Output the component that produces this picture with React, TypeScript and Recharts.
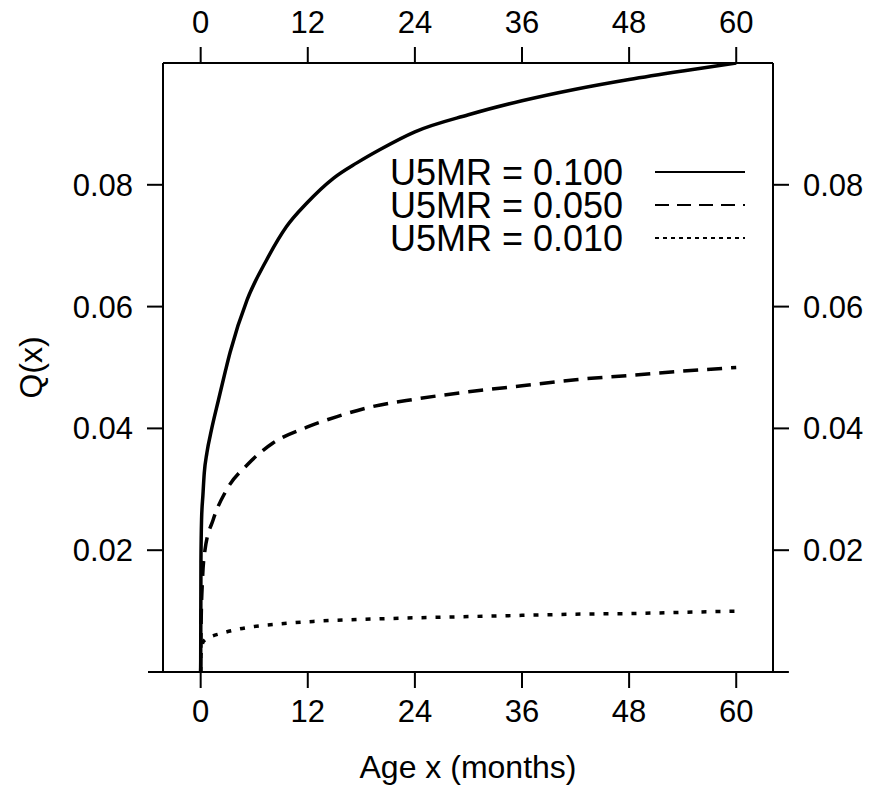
import React from 'react';
import { LineChart, Line, XAxis, YAxis, Legend, ReferenceLine } from 'recharts';

const FONT = '"Liberation Sans", Arial, Helvetica, sans-serif';

const monthTicks = [0, 12, 24, 36, 48, 60];
const qTicks = [0.02, 0.04, 0.06, 0.08];

const seriesLabels = ['U5MR = 0.100', 'U5MR = 0.050', 'U5MR = 0.010'];

const ageHigh = [0, 0.03, 0.1, 0.25, 0.4, 0.7, 1.2, 2, 2.8, 3.3, 5.2, 7.4, 9.6, 11.9, 14.9, 17.5, 20.1, 24, 30, 36, 42, 48, 54, 60];
const qHigh = [0, 0.018, 0.025, 0.029, 0.0326, 0.036, 0.0397, 0.0447, 0.0496, 0.0525, 0.0611, 0.0677, 0.0731, 0.077, 0.0811, 0.0836, 0.0858, 0.0887, 0.0915, 0.0938, 0.0957, 0.0973, 0.0987, 0.1];

const ageMid = [0, 0.05, 0.2, 0.48, 1.4, 2.9, 5.2, 8.1, 11.9, 15.2, 19, 24, 30, 36, 42, 48, 54, 60];
const qMid = [0, 0.008, 0.015, 0.02, 0.025, 0.0299, 0.034, 0.0376, 0.0402, 0.0419, 0.0435, 0.0448, 0.046, 0.047, 0.048, 0.0487, 0.0494, 0.05];

const ageLow = [0, 0.05, 0.3, 1, 2.2, 3.8, 5.2, 8.9, 12.6, 19.3, 24, 30, 36, 42, 48, 54, 60];
const qLow = [0, 0.003, 0.005, 0.0057, 0.0063, 0.0069, 0.0073, 0.0079, 0.0083, 0.0087, 0.0089, 0.0091, 0.0093, 0.0095, 0.0096, 0.0098, 0.01];

const toRows = (xs: number[], ys: number[]) => xs.map((x, i) => ({ x, q: ys[i] }));
const highData = toRows(ageHigh, qHigh);
const midData = toRows(ageMid, qMid);
const lowData = toRows(ageLow, qLow);

const lineDash = ['', '15 9', '5 9'];
const legendDash = ['', '14 8', '4 4'];

const tickStyle = { fill: '#000', fontSize: 31, fontFamily: FONT };
const lineStyle = { stroke: '#000', strokeWidth: 2 };

function XLabel(props: any) {
  const vb = props.viewBox || {};
  return (
    <text x={vb.x + vb.width / 2} y={vb.y + 106} textAnchor="middle" fill="#000" fontSize={32} fontFamily={FONT}>
      Age x (months)
    </text>
  );
}

function YLabel(props: any) {
  const vb = props.viewBox || {};
  const cx = 42;
  const cy = vb.y + vb.height / 2;
  return (
    <text x={cx} y={cy} transform={`rotate(-90, ${cx}, ${cy})`} textAnchor="middle" fill="#000" fontSize={32} fontFamily={FONT}>
      Q(x)
    </text>
  );
}

function LegendBox() {
  const rows = [24, 57, 90];
  return (
    <svg width={380} height={115} style={{ display: 'block' }}>
      {seriesLabels.map((label, i) => (
        <g key={label}>
          <text x={5} y={rows[i]} dy="0.36em" fill="#000" fontSize={36} fontFamily={FONT}>
            {label}
          </text>
          <line x1={270} x2={360} y1={rows[i]} y2={rows[i]} stroke="#000" strokeWidth={2} strokeDasharray={legendDash[i] || undefined} />
        </g>
      ))}
    </svg>
  );
}

export default function App() {
  return (
    <div style={{ marginTop: -8, marginLeft: -8, width: 871, height: 788 }}>
      <LineChart width={871} height={788} margin={{ top: 0, right: 0, bottom: 0, left: 0 }}>
        <XAxis
          xAxisId="b"
          type="number"
          dataKey="x"
          orientation="bottom"
          domain={[-4.22, 64.12]}
          allowDataOverflow
          ticks={monthTicks}
          interval={0}
          height={116}
          tickSize={16}
          tickMargin={12}
          axisLine={false}
          tickLine={lineStyle}
          tick={tickStyle}
          label={<XLabel />}
        />
        <XAxis
          xAxisId="t"
          type="number"
          dataKey="x"
          orientation="top"
          domain={[-4.22, 64.12]}
          allowDataOverflow
          ticks={monthTicks}
          interval={0}
          height={63}
          tickSize={16}
          tickMargin={14}
          axisLine={lineStyle}
          tickLine={lineStyle}
          tick={tickStyle}
        />
        <YAxis
          yAxisId="l"
          type="number"
          orientation="left"
          domain={[0, 0.1]}
          allowDataOverflow
          ticks={qTicks}
          interval={0}
          width={163}
          tickSize={16}
          tickMargin={14}
          axisLine={lineStyle}
          tickLine={lineStyle}
          tick={tickStyle}
          tickFormatter={(v: number) => v.toFixed(2)}
          label={<YLabel />}
        />
        <YAxis
          yAxisId="r"
          type="number"
          orientation="right"
          domain={[0, 0.1]}
          allowDataOverflow
          ticks={qTicks}
          interval={0}
          width={98}
          tickSize={16}
          tickMargin={14}
          axisLine={lineStyle}
          tickLine={lineStyle}
          tick={tickStyle}
          tickFormatter={(v: number) => v.toFixed(2)}
        />
        <ReferenceLine
          xAxisId="b"
          yAxisId="l"
          segment={[{ x: -5.9, y: 0 }, { x: 65.9, y: 0 }]}
          ifOverflow="visible"
          stroke="#000"
          strokeWidth={2}
        />
        <Line xAxisId="b" yAxisId="l" data={highData} dataKey="q" type="monotone" stroke="#000" strokeWidth={3.5} dot={false} isAnimationActive={false} name={seriesLabels[0]} />
        <Line xAxisId="b" yAxisId="l" data={midData} dataKey="q" type="monotone" stroke="#000" strokeWidth={3.5} strokeDasharray={lineDash[1]} dot={false} isAnimationActive={false} name={seriesLabels[1]} />
        <Line xAxisId="b" yAxisId="l" data={lowData} dataKey="q" type="monotone" stroke="#000" strokeWidth={3.5} strokeDasharray={lineDash[2]} dot={false} isAnimationActive={false} name={seriesLabels[2]} />
        <Legend
          layout="vertical"
          align="center"
          verticalAlign="middle"
          wrapperStyle={{ left: 385, top: 148, width: 380, height: 115 }}
          content={() => <LegendBox />}
        />
      </LineChart>
    </div>
  );
}
